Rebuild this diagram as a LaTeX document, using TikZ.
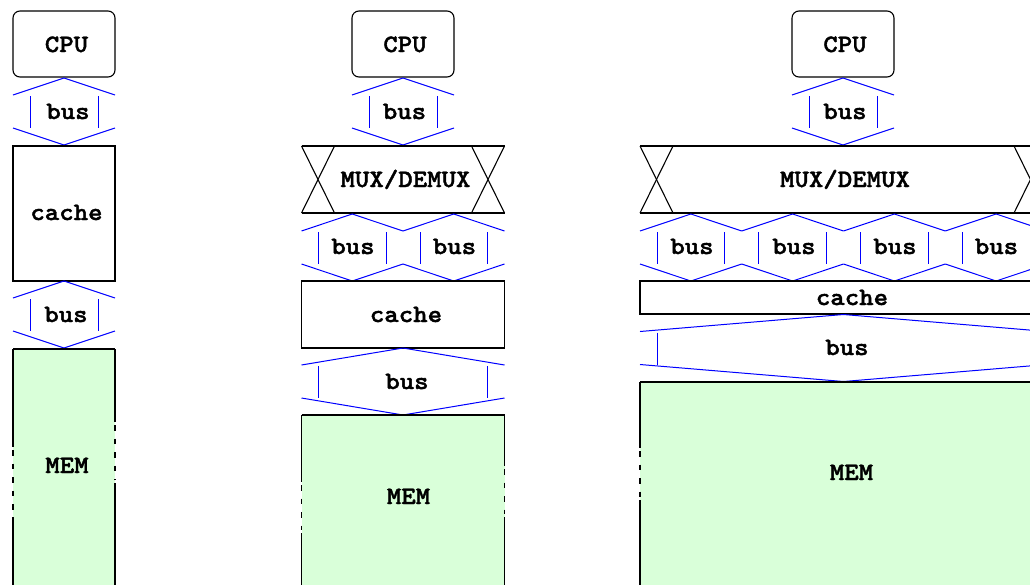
\documentclass[tikz,border=0pt]{standalone}
\usepackage{fontspec}
\newfontfamily\diagfont{Latin Modern Mono Light}[FakeStretch=1.1, FakeBold=1.6]
\definecolor{memgreen}{RGB}{217,255,217}
\definecolor{busblue}{RGB}{0,0,255}

% bus link: #1 = left x, #2 = right x, #3 = top y
\newcommand{\busunit}[3]{%
  \draw[busline] (#1,#3+17) -- ({(#1+#2)/2},#3) -- (#2,#3+17);
  \draw[busline] (#1,#3+50) -- ({(#1+#2)/2},#3+67) -- (#2,#3+50);
  \draw[busline] (#1+17,#3+18) -- (#1+17,#3+50);
  \draw[busline] (#2-17,#3+18) -- (#2-17,#3+50);
}
% multiplexer band: #1 = left x, #2 = right x, #3 = top y, #4 = bottom y
\newcommand{\muxband}[4]{%
  \draw[frame] (#1,#3) -- (#2,#3);
  \draw[frame] (#1,#4) -- (#2,#4);
  \draw[frame] (#1,#3) -- (#1+33,#4);
  \draw[frame] (#1+33,#3) -- (#1,#4);
  \draw[frame] (#2,#3) -- (#2-33,#4);
  \draw[frame] (#2-33,#3) -- (#2,#4);
}
% memory side edge with a broken stretch: #1 = x, #2 = top y, #3 = break start, #4 = break end
\newcommand{\memedge}[4]{%
  \draw[frame] (#1,#2) -- (#1,#3);
  \draw[frame, dash pattern=on 5.5pt off 8pt] (#1,#3+3) -- (#1,#4-3);
  \draw[frame] (#1,#4) -- (#1,600);
}

\begin{document}
\begin{tikzpicture}[x=1pt, y=-1pt,
  frame/.style={draw=black, line width=1.1pt},
  busline/.style={draw=busblue, line width=1pt},
  lbl/.style={font=\diagfont\bfseries\fontsize{25}{25}\selectfont,
              anchor=base, inner sep=0pt}]
\clip (0,0) rectangle (1030,584);

% ---------- single CPU with private cache ----------
\draw[frame, rounded corners=7pt] (13,11) rectangle (115,77);
\busunit{13}{115}{78}
\draw[frame] (13,146) rectangle (115,281);
\busunit{13}{115}{281}
\fill[memgreen] (13,349) rectangle (115,600);
\draw[frame] (13,349) -- (115,349);
\memedge{13}{349}{447}{517}
\memedge{115}{349}{422}{483}

\node[lbl] (cpuA)   at (66.5,52)  {CPU};
\node[lbl] (busA1)  at (68,119)   {bus};
\node[lbl] (cacheA) at (66.5,220) {cache};
\node[lbl] (busA2)  at (66,322)   {bus};
\node[lbl] (memA)   at (67,473)   {MEM};

% ---------- two channels ----------
\draw[frame, rounded corners=7pt] (352,11) rectangle (454,77);
\busunit{352}{454}{78}
\muxband{301.5}{504.5}{146}{213}
\busunit{301.5}{403}{214}
\busunit{403}{504.5}{214}
\draw[frame] (301.5,281) rectangle (504.5,348);
\busunit{301.5}{504.5}{348}
\fill[memgreen] (301.5,415) rectangle (504.5,600);
\draw[frame] (301.5,415) -- (504.5,415);
\memedge{301.5}{415}{482}{533}
\memedge{504.5}{415}{466}{517}

\node[lbl] (cpuB)   at (405,52)   {CPU};
\node[lbl] (busB0)  at (404.5,119) {bus};
\node[lbl] (muxB)   at (405.5,187) {MUX/DEMUX};
\node[lbl] (busB1)  at (353,254)  {bus};
\node[lbl] (busB2)  at (454.5,254) {bus};
\node[lbl] (cacheB) at (406,322)  {cache};
\node[lbl] (busB3)  at (407,389)  {bus};
\node[lbl] (memB)   at (408.5,504) {MEM};

% ---------- four channels ----------
\draw[frame, rounded corners=7pt] (792,11) rectangle (894,77);
\busunit{792}{894}{78}
\muxband{640}{1047}{146}{213}
\busunit{640}{741.75}{214}
\busunit{741.75}{843.5}{214}
\busunit{843.5}{945.25}{214}
\busunit{945.25}{1047}{214}
\draw[frame] (640,281) rectangle (1047,314);
\busunit{640}{1047}{314.5}
\fill[memgreen] (640,382) rectangle (1047,600);
\draw[frame] (640,382) -- (1047,382);
\memedge{640}{382}{448}{500}

\node[lbl] (cpuC)   at (845,52)   {CPU};
\node[lbl] (busC0)  at (845,119)  {bus};
\node[lbl] (muxC)   at (845,187)  {MUX/DEMUX};
\node[lbl] (busC1)  at (692,254)  {bus};
\node[lbl] (busC2)  at (794,254)  {bus};
\node[lbl] (busC3)  at (895,254)  {bus};
\node[lbl] (busC4)  at (996.5,254) {bus};
\node[lbl] (cacheC) at (852,305)  {cache};
\node[lbl] (busC5)  at (847,355)  {bus};
\node[lbl] (memC)   at (851.5,480) {MEM};
\end{tikzpicture}
\end{document}
